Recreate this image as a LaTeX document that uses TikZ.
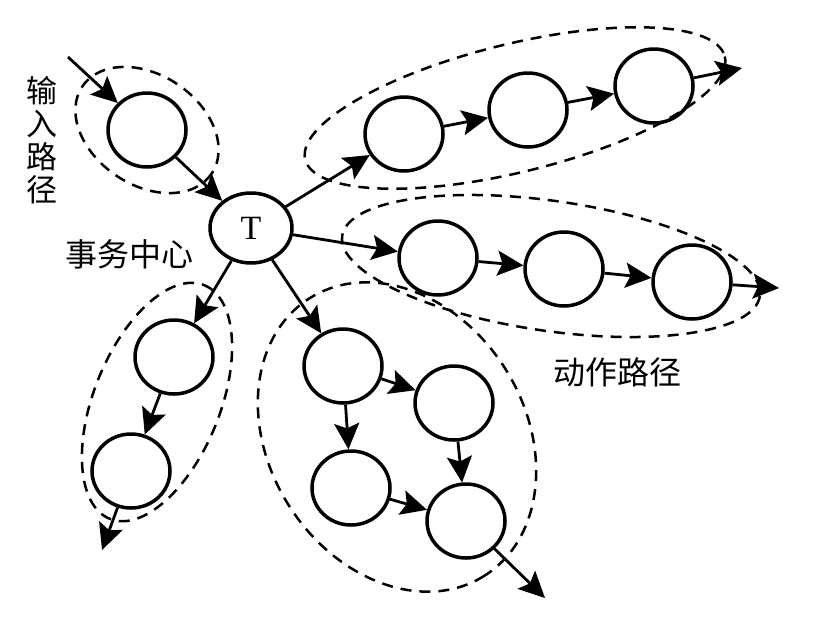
\documentclass[tikz,border=0pt]{standalone}
\usepackage{fontspec}
\setmainfont{Liberation Serif}
\newfontfamily\cjkfont{Noto Sans CJK SC}
\usetikzlibrary{shapes.geometric,arrows.meta}

\begin{document}
\begin{tikzpicture}[x=0.5pt,y=0.5pt,yscale=-1,xscale=1,
    state/.style={draw,ellipse,line width=1.75pt,minimum width=39pt,minimum height=37pt,inner sep=0pt},
    hub/.style={state,minimum width=41pt,minimum height=35pt,font=\fontsize{17}{18}\selectfont},
    flow/.style={line width=1.4pt,-{Stealth[length=13pt,width=12.5pt,inset=2.5pt]}},
    group/.style={line width=1.25pt,dash pattern=on 5.5pt off 4pt},
    lbl/.style={inner sep=0pt,font=\cjkfont\fontsize{16}{16.5}\selectfont}]
    \useasboundingbox (0,0) rectangle (822,627);

    %Shape: Ellipse [input path]
    \draw[group,rotate around={34:(147,130)}] (147,130) ellipse [x radius=78,y radius=55];
    %Shape: Ellipse [action path, top]
    \draw[group,rotate around={-13.8:(515,108)}] (515,108) ellipse [x radius=216,y radius=64];
    %Shape: Ellipse [action path, middle]
    \draw[group,rotate around={8.2:(551,266)}] (551,266) ellipse [x radius=211,y radius=65];
    %Shape: Ellipse [action path, left]
    \draw[group,rotate around={-68:(157,402)}] (157,402) ellipse [x radius=126,y radius=63];
    %Shape: Ellipse [action path, right]
    \draw[group,rotate around={57.8:(397,437)}] (397,437) ellipse [x radius=164,y radius=128];

    % States
    \node[state] (in0) at (147,130) {};
    \node[hub] (T) at (251,228) {T};
    \node[state] (a1) at (404,134) {};
    \node[state] (a2) at (528,110) {};
    \node[state] (a3) at (654,86) {};
    \node[state] (b1) at (438,258) {};
    \node[state] (b2) at (564,269) {};
    \node[state] (b3) at (692,282) {};
    \node[state] (c1) at (174,357) {};
    \node[state] (c2) at (131,471) {};
    \node[state] (d1) at (343,366) {};
    \node[state] (d2) at (454,403) {};
    \node[state] (d3) at (351,488) {};
    \node[state] (d4) at (466,521) {};

    % loose ends
    \coordinate (src) at (68,57);
    \coordinate (aout) at (742,68);
    \coordinate (bout) at (779,288);
    \coordinate (cout) at (102,550);
    \coordinate (dout) at (545,598);

    % Arrows
    \draw[flow] (src) -- (in0);
    \draw[flow] (in0) -- (T);
    \draw[flow] (T) -- (a1);
    \draw[flow] (a1) -- (a2);
    \draw[flow] (a2) -- (a3);
    \draw[flow] (a3) -- (aout);
    \draw[flow] (T) -- (b1);
    \draw[flow] (b1) -- (b2);
    \draw[flow] (b2) -- (b3);
    \draw[flow] (b3) -- (bout);
    \draw[flow] (T) -- (c1);
    \draw[flow] (c1) -- (c2);
    \draw[flow] (c2) -- (cout);
    \draw[flow] (T) -- (d1);
    \draw[flow] (d1) -- (d2);
    \draw[flow] (d1) -- (d3);
    \draw[flow] (d2) -- (d4);
    \draw[flow] (d3) -- (d4);
    \draw[flow] (d4) -- (dout);

    % Text Node
    \node[lbl,align=center,font=\cjkfont\fontsize{15.5}{16.5}\selectfont] (inlbl) at (42,140) {输\\入\\路\\径};
    % Text Node
    \node[lbl] (hublbl) at (129,254) {事务中心};
    % Text Node
    \node[lbl] (actlbl) at (617,372) {动作路径};

\end{tikzpicture}
\end{document}
